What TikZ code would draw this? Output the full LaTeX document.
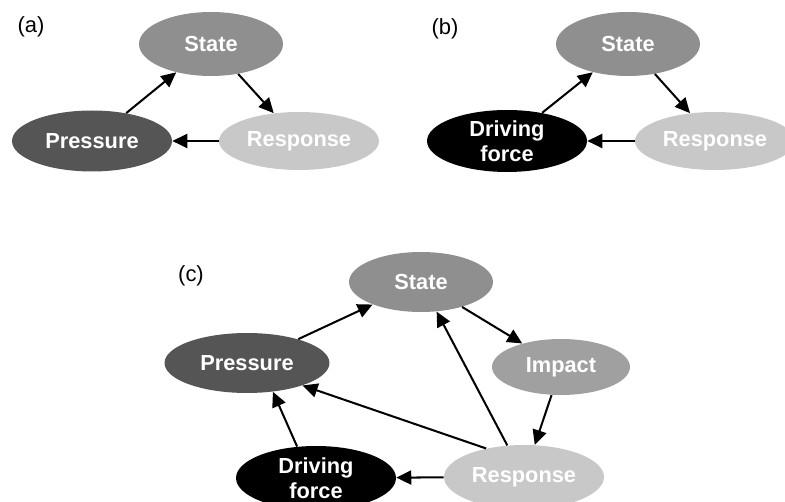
\documentclass[tikz,border=0pt]{standalone}
\usepackage{fontspec}
\setmainfont{Liberation Sans}
\usetikzlibrary{shapes.geometric}
\usetikzlibrary{arrows.meta}
\definecolor{stategray}{RGB}{143,143,143}
\definecolor{pressgray}{RGB}{85,85,85}
\definecolor{respgray}{RGB}{200,200,200}
\definecolor{impactgray}{RGB}{160,160,160}

\begin{document}
\begin{tikzpicture}[x=0.02cm, y=-0.02cm,
    stage/.style={ellipse, inner sep=0pt, text=white, align=center,
        font=\fontsize{12.4}{14.5}\selectfont\bfseries,
        minimum width=3.2cm, minimum height=1.22cm},
    small/.style={minimum width=2.88cm, minimum height=1.28cm},
    arr/.style={-{Triangle[length=8.5pt, width=8pt]}, line width=1.15pt},
    tag/.style={font=\fontsize{12.5}{14}\selectfont}]
    \useasboundingbox (0,0) rectangle (785,502);

    % Panel (a)
    \node[tag] (taga) at (31,27) {(a)};
    \node[stage, small, fill=stategray] (sa) at (211,44) {State};
    \node[stage, fill=pressgray] (pa) at (92,141) {Pressure};
    \node[stage, fill=respgray, minimum height=1.16cm] (ra) at (299,141) {Response};
    \draw[arr] (pa) -- (sa);
    \draw[arr] (sa) -- (ra);
    \draw[arr] (ra) -- (pa);

    % Panel (b)
    \node[tag] (tagb) at (445,29) {(b)};
    \node[stage, small, fill=stategray] (sb) at (628,44) {State};
    \node[stage, fill=black, minimum height=1.24cm] (db) at (507,141) {Driving\\force};
    \node[stage, fill=respgray, minimum height=1.16cm] (rb) at (715,141) {Response};
    \draw[arr] (db) -- (sb);
    \draw[arr] (sb) -- (rb);
    \draw[arr] (rb) -- (db);

    % Panel (c)
    \node[tag] (tagc) at (191,276) {(c)};
    \node[stage, small, fill=stategray, minimum height=1.2cm] (sc) at (421,282) {State};
    \node[stage, fill=pressgray, minimum width=3.3cm, minimum height=1.2cm] (pc) at (247,363) {Pressure};
    \node[stage, fill=impactgray, minimum width=2.76cm, minimum height=1.12cm] (ic) at (561,367) {Impact};
    \node[stage, fill=black, minimum height=1.28cm] (dc) at (316,478) {Driving\\force};
    \node[stage, fill=respgray, minimum height=1.28cm] (rc) at (524,477) {Response};
    \draw[arr] (pc) -- (sc);
    \draw[arr] (sc) -- (ic);
    \draw[arr] (ic) -- (rc);
    \draw[arr] (rc) -- (sc);
    \draw[arr] (rc.143) -- (pc.-22);
    \draw[arr] (dc.121) -- (pc.-48);
    \draw[arr] (rc) -- (dc);
\end{tikzpicture}
\end{document}
